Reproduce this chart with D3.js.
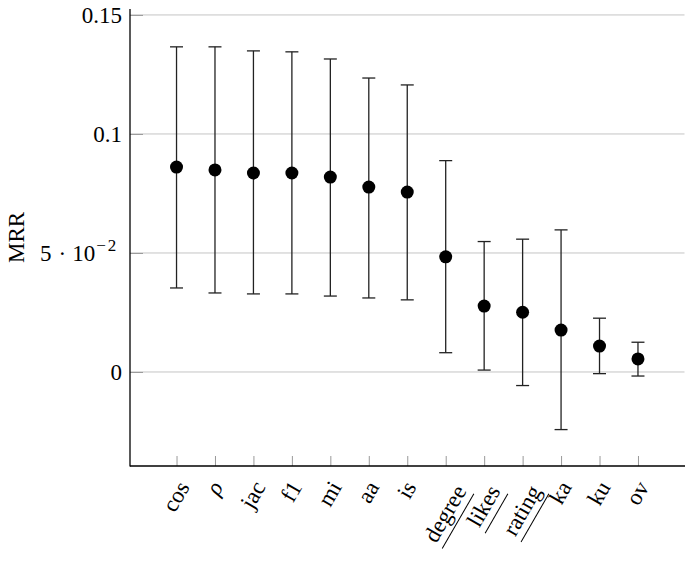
<!DOCTYPE html>
<html>
<head>
<meta charset="utf-8">
<script src="https://cdn.jsdelivr.net/npm/d3@7"></script>
<style>
  html, body { margin: 0; padding: 0; background: #fff; }
  svg { display: block; }
</style>
</head>
<body>
<svg id="chart" width="685" height="562"></svg>
<script>
// ---- data ----
const categories = ["cos", "ρ", "jac", "f1", "mi", "aa", "is", "degree", "likes", "rating", "ka", "ku", "ov"];
const underlined = ["degree", "likes", "rating"];
const meanValues = [0.0861, 0.0849, 0.0836, 0.0836, 0.0819, 0.0777, 0.0756, 0.0484, 0.0277, 0.0251, 0.0176, 0.0109, 0.0055];
const upperValues = [0.1366, 0.1366, 0.1349, 0.1345, 0.1315, 0.1235, 0.1206, 0.0888, 0.0548, 0.0558, 0.0597, 0.0226, 0.0125];
const lowerValues = [0.0353, 0.0332, 0.0328, 0.0328, 0.0319, 0.0311, 0.0303, 0.0081, 0.0008, -0.0057, -0.0242, -0.0007, -0.0017];
const yTickValues = [0, 0.05, 0.1, 0.15];
const yTickLabels = ["0", "5·10^−2", "0.1", "0.15"];
const yLabel = "MRR";

// ---- layout ----
const svg = d3.select("#chart");
const FONT = "'Liberation Serif', 'Times New Roman', 'DejaVu Serif', serif";
svg.attr("font-family", FONT);
const mLeft = 130, mRight = 684.5, mTop = 9, mBottom = 466;
const fontSize = 23;

const x = d3.scaleLinear().domain([-1.21, categories.length - 1 + 1.21]).range([mLeft, mRight]);
const y = d3.scaleLinear().domain([-0.0395, 0.1525]).range([mBottom, mTop]);

// grid lines
svg.append("g").selectAll("line").data(yTickValues).join("line")
  .attr("x1", mLeft).attr("x2", mRight)
  .attr("y1", d => y(d)).attr("y2", d => y(d))
  .attr("stroke", "#c4c4c4").attr("stroke-width", 1);

// y-axis via d3.axisLeft with inner ticks
const yAxis = d3.axisLeft(y).tickValues(yTickValues).tickSize(-13).tickFormat("");
const gy = svg.append("g").attr("transform", `translate(${mLeft},0)`).call(yAxis);
gy.select(".domain").remove();
gy.selectAll(".tick line").attr("stroke", "#999").attr("stroke-width", 1);

// x-axis ticks inside
const xAxis = d3.axisBottom(x).tickValues(d3.range(categories.length)).tickSize(-10).tickFormat("");
const gx = svg.append("g").attr("transform", `translate(0,${mBottom})`).call(xAxis);
gx.select(".domain").remove();
gx.selectAll(".tick line").attr("stroke", "#999").attr("stroke-width", 1);

// axis lines
svg.append("line").attr("x1", mLeft).attr("x2", mLeft).attr("y1", mTop).attr("y2", mBottom + 0.5)
  .attr("stroke", "#000").attr("stroke-width", 1.3);
svg.append("line").attr("x1", mLeft).attr("x2", 685).attr("y1", mBottom).attr("y2", mBottom)
  .attr("stroke", "#000").attr("stroke-width", 1.3);

// y tick labels
yTickValues.forEach((v, i) => {
  const lab = yTickLabels[i];
  if (lab.includes("^")) {
    const [base, sup] = lab.split("^");
    const [a, b] = base.split("·");
    const t = svg.append("text")
      .attr("font-family", FONT)
      .attr("x", 40).attr("y", y(v)).attr("dy", "0.36em")
      .attr("text-anchor", "start").attr("font-size", fontSize);
    t.append("tspan").text(a);
    t.append("tspan").attr("dx", 7).text("·");
    t.append("tspan").attr("dx", 6).text(b);
    t.append("tspan").attr("font-size", 17).attr("dx", 1).attr("dy", "-0.6em").text(sup[0]);
    t.append("tspan").attr("font-size", 17).attr("dx", 2).text(sup.slice(1));
  } else {
    svg.append("text")
      .attr("font-family", FONT)
      .attr("x", 122).attr("y", y(v)).attr("dy", "0.36em")
      .attr("text-anchor", "end").attr("font-size", fontSize)
      .text(lab);
  }
});

// y label
svg.append("text")
  .attr("font-family", FONT)
  .attr("transform", `translate(24,${(mTop + mBottom) / 2}) rotate(-90)`)
  .attr("text-anchor", "middle").attr("font-size", fontSize)
  .text(yLabel);

// x tick labels rotated
categories.forEach((c, i) => {
  const g = svg.append("g");
  const t = g.append("text")
    .attr("font-family", FONT)
    .attr("text-anchor", "middle").attr("dy", "0.3em")
    .attr("font-size", fontSize)
    .attr("font-style", c === "ρ" ? "italic" : null)
    .text(c);
  const w = t.node().getComputedTextLength();
  const isU = underlined.includes(c);
  const cy = 483.5 + 0.433 * w + (isU ? 4 : 0);
  g.attr("transform", `translate(${x(i)},${cy}) rotate(-60)`);
  if (isU) {
    g.append("line")
      .attr("x1", -w / 2 - 1).attr("x2", w / 2 + 1)
      .attr("y1", fontSize * 0.62).attr("y2", fontSize * 0.62)
      .attr("stroke", "#000").attr("stroke-width", 1);
  }
});

// error bars
const bars = svg.append("g");
const capW = 6.5;
categories.forEach((c, i) => {
  const cx = x(i);
  bars.append("line").attr("x1", cx).attr("x2", cx)
    .attr("y1", y(lowerValues[i])).attr("y2", y(upperValues[i]))
    .attr("stroke", "#222").attr("stroke-width", 1.3);
  [lowerValues[i], upperValues[i]].forEach(v => {
    bars.append("line").attr("x1", cx - capW).attr("x2", cx + capW)
      .attr("y1", y(v)).attr("y2", y(v))
      .attr("stroke", "#222").attr("stroke-width", 1.3);
  });
});

// points
svg.append("g").selectAll("circle").data(meanValues).join("circle")
  .attr("cx", (d, i) => x(i)).attr("cy", d => y(d)).attr("r", 6.5)
  .attr("fill", "#000");
</script>
</body>
</html>
